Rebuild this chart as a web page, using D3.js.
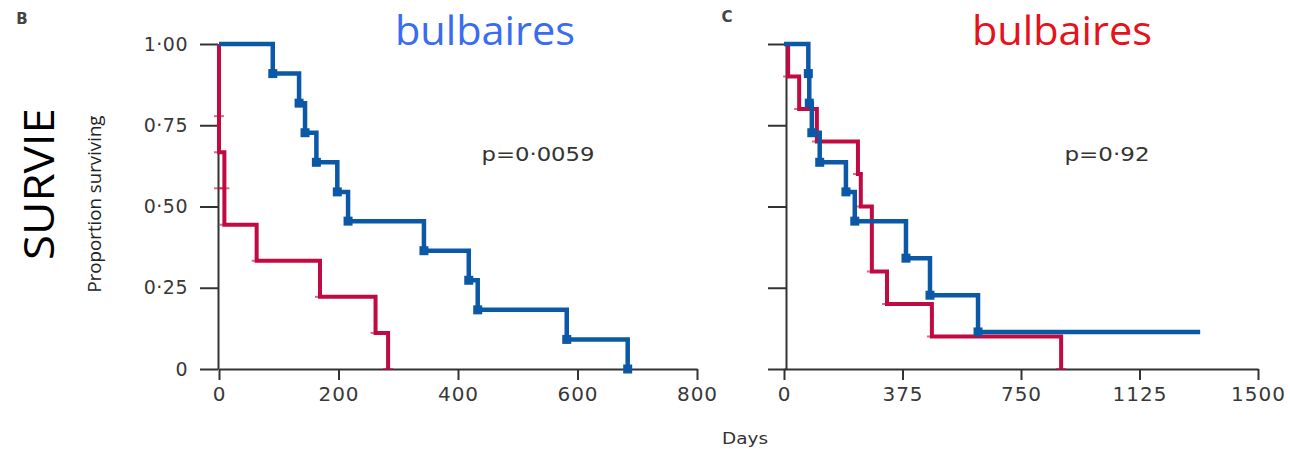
<!DOCTYPE html>
<html><head><meta charset="utf-8">
<script src="https://cdn.jsdelivr.net/npm/d3@7"></script>
<style>html,body{margin:0;padding:0;background:#fff;}svg{display:block;}</style>
</head><body>
<script>
// ---- data ----
const leftXTicks = [0, 200, 400, 600, 800];
const rightXTicks = [0, 375, 750, 1125, 1500];
const yTicks = [0, 0.25, 0.5, 0.75, 1];
const yTickLabels = ["0", "0·25", "0·50", "0·75", "1·00"];

const leftBlueTimes = [0, 90, 134, 144, 163, 198, 216, 343, 418, 433, 582, 684];
const leftBlueSurv  = [1, 0.909, 0.818, 0.727, 0.636, 0.545, 0.455, 0.364, 0.273, 0.182, 0.091, 0];
const leftRedTimes  = [0, 0, 9, 63, 169, 262, 283];
const leftRedSurv   = [1, 0.667, 0.444, 0.333, 0.222, 0.111, 0];
const leftRedMarkTimes = [0, 0, 0, 9, 9, 63, 169, 262, 283];
const leftRedMarkSurv  = [0.778, 0.667, 0.556, 0.556, 0.444, 0.333, 0.222, 0.111, 0];

const rightBlueTimes = [0, 77, 80, 88, 113, 196, 224, 386, 462, 614];
const rightBlueSurv  = [1, 0.909, 0.818, 0.727, 0.636, 0.545, 0.455, 0.341, 0.227, 0.114];
const rightBlueEnd = 1317;
const rightRedTimes = [0, 13, 48, 104, 234, 243, 278, 326, 468, 877];
const rightRedSurv  = [1, 0.9, 0.8, 0.7, 0.6, 0.5, 0.3, 0.2, 0.1, 0];

const pLeft = "p=0·0059", pRight = "p=0·92";
const titleText = "bulbaires";

// ---- drawing ----
const W = 1290, H = 449;
const BLUE = "#0b59a6", RED = "#c10a41", AX = "#333";
const TF = "DejaVu Sans, Verdana, sans-serif";
const svg = d3.select("body").append("svg").attr("width", W).attr("height", H);

const y = d3.scaleLinear().domain([0, 1]).range([369, 44]);
const xL = d3.scaleLinear().domain([0, 800]).range([219, 697]);
const xR = d3.scaleLinear().domain([0, 1500]).range([784, 1258]);

function stepPath(x, times, surv, endT) {
  const pts = [];
  for (let i = 0; i < times.length; i++) {
    if (i > 0) pts.push([x(times[i]), y(surv[i - 1])]);
    pts.push([x(times[i]), y(surv[i])]);
  }
  if (endT !== undefined) pts.push([x(endT), y(surv[surv.length - 1])]);
  return d3.line()(pts);
}

function axes(x, xTicks, axisX, showLabels) {
  const g = svg.append("g");
  const ya = d3.axisLeft(y).tickValues(yTicks).tickSize(18).tickSizeOuter(0)
    .tickFormat((d, i) => showLabels ? yTickLabels[i] : "");
  const gy = g.append("g").attr("transform", `translate(${axisX},0)`).call(ya);
  gy.select(".domain").attr("stroke", AX).attr("stroke-width", 2);
  gy.selectAll(".tick line").attr("stroke", AX).attr("stroke-width", 2);
  gy.selectAll(".tick text").attr("font-family", TF).attr("font-size", 19)
    .attr("fill", "#383838").attr("x", -30).attr("letter-spacing", 0.5);
  const xa = d3.axisBottom(x).tickValues(xTicks).tickSize(11).tickSizeOuter(0).tickFormat(d3.format("d"));
  const gx = g.append("g").attr("transform", `translate(0,369)`).call(xa);
  gx.select(".domain").attr("stroke", AX).attr("stroke-width", 2);
  gx.selectAll(".tick line").attr("stroke", AX).attr("stroke-width", 2);
  gx.selectAll(".tick text").attr("font-family", TF).attr("font-size", 20)
    .attr("fill", "#383838").attr("y", 18).attr("letter-spacing", 1);
}

axes(xL, leftXTicks, 218, true);
axes(xR, rightXTicks, 786, false);

function redMarks(x, times, surv) {
  svg.append("g").selectAll("line").data(times).join("line")
    .attr("x1", (d) => x(d) - 5).attr("x2", (d) => x(d) + 5)
    .attr("y1", (d, i) => y(surv[i])).attr("y2", (d, i) => y(surv[i]))
    .attr("stroke", RED).attr("stroke-width", 2).attr("opacity", 0.6);
}
function blueMarks(x, times, surv) {
  svg.append("g").selectAll("rect").data(times.slice(1)).join("rect")
    .attr("x", (d) => x(d) - 4.5).attr("y", (d, i) => y(surv[i + 1]) - 4.5)
    .attr("width", 9).attr("height", 9).attr("fill", BLUE);
}

svg.append("path").attr("d", stepPath(xL, leftRedTimes, leftRedSurv))
  .attr("fill", "none").attr("stroke", RED).attr("stroke-width", 4);
redMarks(xL, leftRedMarkTimes, leftRedMarkSurv);
svg.append("path").attr("d", stepPath(xL, leftBlueTimes, leftBlueSurv))
  .attr("fill", "none").attr("stroke", BLUE).attr("stroke-width", 4.5);
blueMarks(xL, leftBlueTimes, leftBlueSurv);

svg.append("path").attr("d", stepPath(xR, rightRedTimes, rightRedSurv))
  .attr("fill", "none").attr("stroke", RED).attr("stroke-width", 4);
redMarks(xR, rightRedTimes.slice(1), rightRedSurv.slice(1));
svg.append("path").attr("d", stepPath(xR, rightBlueTimes, rightBlueSurv, rightBlueEnd))
  .attr("fill", "none").attr("stroke", BLUE).attr("stroke-width", 4.5);
blueMarks(xR, rightBlueTimes, rightBlueSurv);

const T = (x, yy, s, opts) => {
  const t = svg.append("text").attr("x", x).attr("y", yy).text(s)
    .attr("font-family", opts.font || TF)
    .attr("font-size", opts.size).attr("fill", opts.fill || "#333")
    .attr("text-anchor", opts.anchor || "middle");
  if (opts.weight) t.attr("font-weight", opts.weight);
  if (opts.rotate) t.attr("transform", `rotate(-90,${x},${yy})`);
  if (opts.len) t.attr("textLength", opts.len).attr("lengthAdjust", "spacingAndGlyphs");
  return t;
};
T(22, 24, "B", {size: 15, weight: "bold", fill: "#444"});
T(727, 22, "C", {size: 15, weight: "bold", fill: "#444"});
T(485, 45, titleText, {size: 40, fill: "#3a6cf2", font: "Open Sans, sans-serif", len: 180});
T(1062, 45, titleText, {size: 40, fill: "#e6121b", font: "Open Sans, sans-serif", len: 180});
T(54, 184, "SURVIE", {size: 42, fill: "#000", rotate: true, len: 152, font: "Open Sans, sans-serif"});
T(101, 204, "Proportion surviving", {size: 18, fill: "#222", rotate: true, len: 177, font: "Open Sans, sans-serif"});
T(538, 161, pLeft, {size: 20, fill: "#333", len: 113});
T(1107, 161, pRight, {size: 20, fill: "#333", len: 85});
T(745, 444, "Days", {size: 16, fill: "#333", len: 46});
</script>
</body></html>
